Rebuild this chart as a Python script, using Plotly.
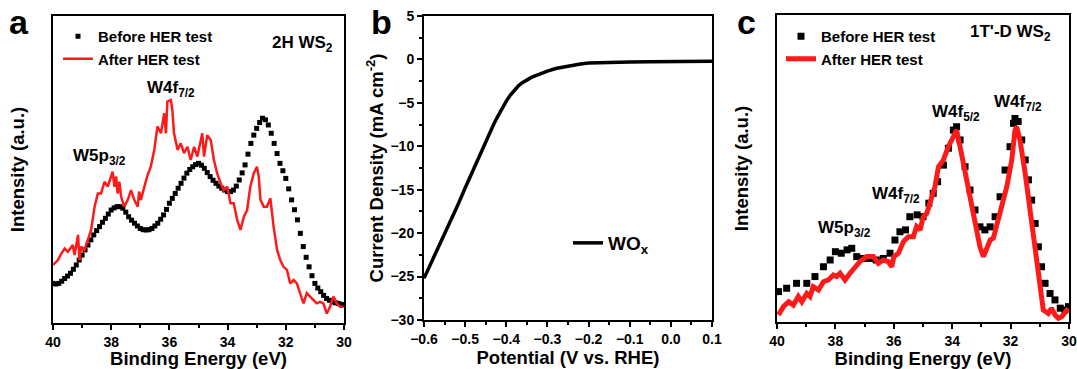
import plotly.graph_objects as go

# ---------------- Panel a : 2H WS2 XPS ----------------
a_before_x = [round(40 - 0.1 * i, 1) for i in range(101)]
a_before_y = [12.9, 12.7, 12.9, 13.6, 14.5, 15.3, 16.2, 17.5, 18.9, 20.5,
              22.1, 23.8, 25.4, 27.1, 28.7, 30.1, 31.4, 32.8, 34.1, 35.5,
              36.8, 37.5, 37.9, 37.9, 37.4, 36.1, 34.6, 33.5, 32.5, 31.6,
              30.8, 30.4, 30.3, 30.4, 30.8, 31.6, 32.5, 33.8, 35.2, 37.0,
              39.0, 40.6, 42.2, 43.9, 45.5, 47.2, 48.8, 50.0, 50.9, 51.6,
              52.0, 51.4, 50.4, 49.0, 47.7, 46.5, 45.5, 44.6, 43.9, 43.3,
              42.8, 42.8, 43.3, 44.6, 46.6, 48.9, 51.5, 55.0, 58.5, 61.2,
              63.4, 65.3, 66.7, 66.2, 64.5, 61.8, 58.5, 55.2, 52.0, 49.6,
              47.1, 43.7, 40.1, 36.9, 33.6, 29.2, 24.9, 21.4, 18.3, 15.4,
              12.9, 11.4, 10.2, 9.0, 8.0, 7.4, 6.9, 6.6, 6.4, 6.1, 5.9]

a_after_x = [40.00, 39.83, 39.71, 39.60, 39.49, 39.37, 39.32, 39.26, 39.14, 39.09,
             39.03, 38.92, 38.80, 38.69, 38.57, 38.46, 38.35, 38.23, 38.12, 38.00,
             37.95, 37.89, 37.83, 37.78, 37.72, 37.66, 37.55, 37.43, 37.32, 37.21,
             37.09, 37.04, 36.98, 36.86, 36.75, 36.64, 36.52, 36.41, 36.29, 36.18,
             36.12, 36.07, 35.95, 35.90, 35.84, 35.72, 35.61, 35.50, 35.38, 35.27,
             35.15, 35.04, 34.93, 34.87, 34.81, 34.70, 34.58, 34.47, 34.36, 34.24,
             34.13, 34.01, 33.90, 33.79, 33.67, 33.56, 33.44, 33.33, 33.22, 33.10,
             32.99, 32.93, 32.87, 32.76, 32.65, 32.53, 32.42, 32.30, 32.19, 32.08,
             31.96, 31.85, 31.73, 31.62, 31.51, 31.39, 31.28, 31.16, 31.05, 30.94,
             30.82, 30.71, 30.59, 30.48, 30.36, 30.25, 30.14, 30.02]
a_after_y = [18.9, 20.5, 22.7, 24.3, 23.2, 24.9, 25.4, 22.1, 28.7, 20.5,
             24.9, 23.8, 27.0, 30.3, 37.9, 42.2, 42.2, 46.0, 44.4, 48.2,
             49.3, 44.4, 47.7, 42.2, 46.0, 41.2, 37.9, 40.1, 43.3, 40.1,
             37.9, 42.8, 40.1, 44.4, 48.2, 50.9, 56.4, 64.0, 61.8, 68.3,
             61.8, 72.1, 72.6, 69.4, 61.8, 56.4, 58.5, 55.3, 57.4, 53.1,
             57.4, 54.2, 58.5, 61.8, 54.2, 61.2, 59.6, 53.1, 48.8, 45.5,
             43.3, 44.4, 39.0, 39.0, 33.6, 30.3, 34.6, 36.8, 44.4, 48.8,
             50.9, 47.7, 40.1, 37.9, 37.9, 40.6, 31.4, 23.8, 20.5, 18.3,
             17.3, 12.9, 14.0, 12.9, 9.7, 6.4, 9.7, 8.6, 7.5, 6.4,
             6.9, 6.4, 3.1, 5.3, 8.6, 6.4, 5.3, 5.3]

# ---------------- Panel b : polarization curve ----------------
b_x = [-0.60, -0.58, -0.55, -0.52, -0.50, -0.47, -0.45, -0.43, -0.42, -0.41,
       -0.40, -0.39, -0.38, -0.37, -0.36, -0.35, -0.34, -0.33, -0.32, -0.30,
       -0.28, -0.26, -0.25, -0.23, -0.22, -0.20, -0.15, -0.10, -0.05, 0.00,
       0.05, 0.10]
b_y = [-25.2, -23.2, -20.0, -17.0, -14.8, -11.6, -9.4, -7.4, -6.5, -5.6,
       -4.8, -4.1, -3.5, -3.0, -2.65, -2.35, -2.1, -1.9, -1.7, -1.35,
       -1.05, -0.85, -0.75, -0.6, -0.52, -0.42, -0.33, -0.3, -0.27, -0.25,
       -0.22, -0.2]

# ---------------- Panel c : 1T'-D WS2 XPS ----------------
c_before_x = [39.95, 39.67, 39.33, 38.98, 38.70, 38.41, 38.18, 38.00, 37.80, 37.60,
              37.44, 37.27, 37.04, 36.80, 36.60, 36.36, 36.13, 35.96, 35.79, 35.60,
              35.45, 35.20, 35.00, 34.80, 34.65, 34.50, 34.30, 34.13, 33.96, 33.85,
              33.73, 33.56, 33.39, 33.22, 33.05, 32.88, 32.70, 32.53, 32.36, 32.19,
              32.02, 31.90, 31.85, 31.74, 31.62, 31.50, 31.39, 31.28, 31.16, 31.05,
              30.94, 30.82, 30.65, 30.48, 30.30, 30.14, 30.02]
c_before_y = [9.9, 11.0, 12.6, 12.6, 14.8, 18.0, 20.2, 22.9, 22.4, 23.5,
              24.0, 21.3, 20.7, 20.7, 20.2, 20.7, 22.4, 26.7, 29.4, 30.0,
              34.3, 34.9, 34.3, 38.7, 41.9, 45.7, 51.1, 56.6, 62.5, 63.6,
              59.3, 50.6, 43.0, 36.5, 31.0, 30.0, 31.0, 34.3, 40.8, 49.5,
              57.1, 64.7, 66.3, 65.3, 59.3, 52.8, 46.3, 39.7, 32.1, 24.5,
              18.0, 12.6, 9.3, 7.2, 4.5, 3.9, 5.0]

c_after_x = [39.95, 39.78, 39.60, 39.44, 39.27, 39.15, 38.98, 38.87, 38.76, 38.58,
             38.41, 38.24, 38.07, 37.96, 37.84, 37.67, 37.50, 37.33, 37.16, 36.93,
             36.70, 36.53, 36.36, 36.19, 36.07, 36.00, 35.84, 35.67, 35.50, 35.33,
             35.22, 35.10, 34.99, 34.87, 34.76, 34.59, 34.47, 34.30, 34.13, 33.96,
             33.85, 33.73, 33.56, 33.39, 33.22, 33.05, 32.93, 32.82, 32.70, 32.59,
             32.48, 32.30, 32.13, 31.96, 31.85, 31.79, 31.68, 31.50, 31.33, 31.16,
             30.99, 30.88, 30.71, 30.60, 30.48, 30.36, 30.25, 30.14, 30.02]
c_after_y = [2.3, 5.0, 6.6, 5.5, 8.3, 6.6, 9.3, 8.3, 11.5, 10.4,
             13.1, 13.7, 15.3, 14.8, 15.9, 13.7, 15.9, 18.0, 19.7, 21.3,
             21.3, 19.1, 20.2, 19.7, 18.0, 21.3, 22.4, 26.2, 27.8, 27.8,
             31.1, 30.0, 34.3, 35.4, 38.7, 44.1, 50.6, 52.8, 57.1, 60.4,
             62.5, 57.1, 48.4, 39.7, 31.1, 24.5, 21.3, 24.5, 26.7, 27.3,
             31.1, 37.6, 44.1, 52.8, 62.5, 63.6, 59.3, 48.4, 35.4, 22.4,
             10.4, 3.9, 2.8, 4.5, 2.3, 1.2, 1.7, 2.8, 4.5]

FONT = "Liberation Sans, Arial, sans-serif"
RED = "#ff1a1a"

fig = go.Figure()
fig.add_trace(go.Scatter(x=a_before_x, y=a_before_y, mode="markers", name="Before HER test",
                         marker=dict(symbol="square", size=5, color="black"),
                         xaxis="x", yaxis="y", legend="legend"))
fig.add_trace(go.Scatter(x=a_after_x, y=a_after_y, mode="lines", name="After HER test",
                         line=dict(color=RED, width=2.5),
                         xaxis="x", yaxis="y", legend="legend"))
fig.add_trace(go.Scatter(x=b_x, y=b_y, mode="lines", name="WO<sub>x</sub>",
                         line=dict(color="black", width=3.5),
                         xaxis="x2", yaxis="y2", legend="legend2"))
fig.add_trace(go.Scatter(x=c_before_x, y=c_before_y, mode="markers", name="Before HER test",
                         marker=dict(symbol="square", size=7, color="black"),
                         xaxis="x3", yaxis="y3", legend="legend3"))
fig.add_trace(go.Scatter(x=c_after_x, y=c_after_y, mode="lines", name="After HER test",
                         line=dict(color=RED, width=5),
                         xaxis="x3", yaxis="y3", legend="legend3"))

W, H = 1077, 369

def px(xp):
    return xp / W

def py(yp):
    return 1 - yp / H

tickfont = dict(family=FONT, size=14, color="black", weight="bold")
titlefont = dict(family=FONT, size=18.5, color="black", weight="bold")

common_x = dict(showline=True, linecolor="black", linewidth=2, mirror=True,
                ticks="outside", ticklen=5, tickwidth=1.5, tickcolor="black",
                tickfont=tickfont, showgrid=False, zeroline=False, automargin=False)
common_y = dict(showline=True, linecolor="black", linewidth=2, mirror=True,
                showgrid=False, zeroline=False, automargin=False)

fig.update_layout(
    width=W, height=H, margin=dict(l=0, r=0, t=0, b=0, autoexpand=False),
    paper_bgcolor="white", plot_bgcolor="white",
    font=dict(family=FONT, color="black"),
    xaxis=dict(domain=[px(53), px(344)], anchor="y", range=[40, 30], dtick=2,
               minor=dict(dtick=1, ticks="outside", ticklen=3, tickcolor="black"),
               title=dict(text="Binding Energy (eV)", font=titlefont, standoff=2),
               **common_x),
    yaxis=dict(domain=[py(323), py(16)], anchor="x", range=[0, 100],
               showticklabels=False, ticks="",
               title=dict(text="Intensity (a.u.)", font=titlefont, standoff=22),
               **common_y),
    xaxis2=dict(domain=[px(424), px(712)], anchor="y2", range=[-0.6, 0.1], dtick=0.1,
                tickformat=".1f",
                minor=dict(dtick=0.05, ticks="outside", ticklen=3, tickcolor="black"),
                title=dict(text="Potential (V vs. RHE)", font=titlefont, standoff=2),
                **common_x),
    yaxis2=dict(domain=[py(320), py(16)], anchor="x2", range=[-30, 5], dtick=5,
                ticks="outside", ticklen=5, tickwidth=1.5, tickcolor="black",
                tickfont=tickfont,
                minor=dict(dtick=2.5, ticks="outside", ticklen=3, tickcolor="black"),
                title=dict(text="Current Density (mA cm<sup>-2</sup>)", font=titlefont, standoff=2),
                **common_y),
    xaxis3=dict(domain=[px(777), px(1069)], anchor="y3", range=[40, 30], dtick=2,
                minor=dict(dtick=1, ticks="outside", ticklen=3, tickcolor="black"),
                title=dict(text="Binding Energy (eV)", font=titlefont, standoff=2),
                **common_x),
    yaxis3=dict(domain=[py(322), py(15)], anchor="x3", range=[0, 100],
                showticklabels=False, ticks="",
                title=dict(text="Intensity (a.u.)", font=titlefont, standoff=22),
                **common_y),
    legend=dict(x=px(58), y=py(20), xanchor="left", yanchor="top",
                bgcolor="rgba(0,0,0,0)", tracegroupgap=0,
                font=dict(family=FONT, size=15, color="black", weight="bold")),
    legend2=dict(x=px(568), y=py(224), xanchor="left", yanchor="top",
                 bgcolor="rgba(0,0,0,0)",
                 font=dict(family=FONT, size=19, color="black", weight="bold")),
    legend3=dict(x=px(781), y=py(20), xanchor="left", yanchor="top",
                 bgcolor="rgba(0,0,0,0)", tracegroupgap=0,
                 font=dict(family=FONT, size=15, color="black", weight="bold")),
)

ann_font = dict(family=FONT, size=17, color="black", weight="bold")
letter_font = dict(family=FONT, size=34, color="black", weight="bold")
annotations = [
    dict(text="a", x=px(19), y=py(22), font=letter_font),
    dict(text="b", x=px(381), y=py(22), font=letter_font),
    dict(text="c", x=px(746), y=py(22), font=letter_font),
    dict(text="2H WS<sub>2</sub>", x=px(302), y=py(44), font=ann_font),
    dict(text="W5p<sub>3/2</sub>", x=px(99), y=py(157), font=ann_font),
    dict(text="W4f<sub>7/2</sub>", x=px(171), y=py(89), font=ann_font),
    dict(text="1T'-D WS<sub>2</sub>", x=px(1010), y=py(33), font=ann_font),
    dict(text="W4f<sub>5/2</sub>", x=px(956), y=py(113), font=ann_font),
    dict(text="W4f<sub>7/2</sub>", x=px(1018), y=py(103), font=ann_font),
    dict(text="W4f<sub>7/2</sub>", x=px(896), y=py(195), font=ann_font),
    dict(text="W5p<sub>3/2</sub>", x=px(844), y=py(229), font=ann_font),
]
for a in annotations:
    a.update(xref="paper", yref="paper", showarrow=False, xanchor="center", yanchor="middle")
fig.update_layout(annotations=annotations)

fig.write_html("out.html")
